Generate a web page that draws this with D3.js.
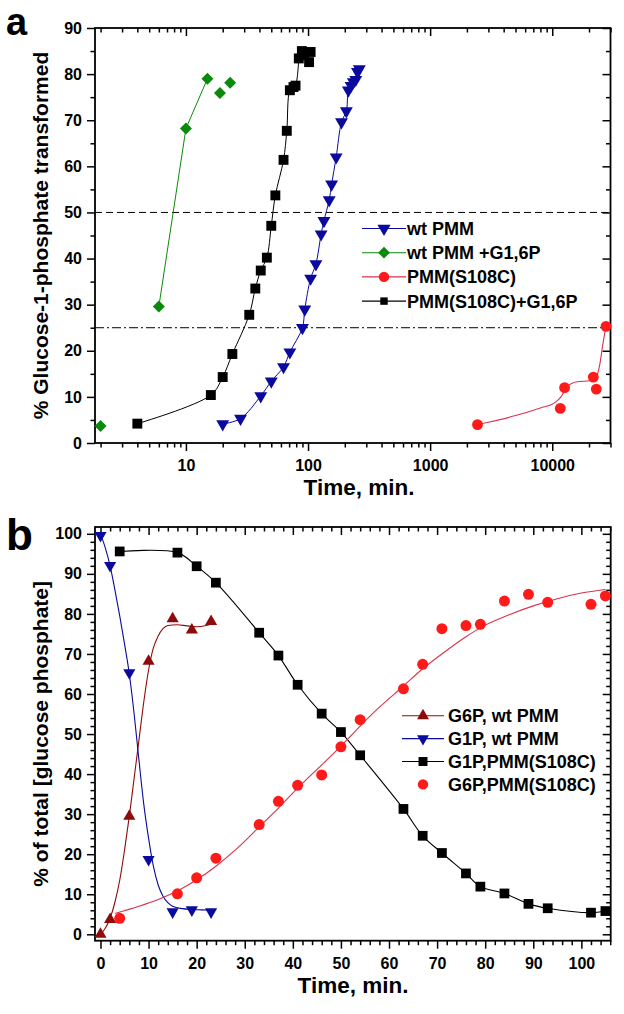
<!DOCTYPE html>
<html><head><meta charset="utf-8">
<script src="https://cdn.jsdelivr.net/npm/d3@7"></script>
<style>body{margin:0;background:#fff}svg{display:block}</style>
</head><body>
<script>
// ---------- DATA: panel a (log time axis) ----------
const wtTime = [20,28,41,50,63,71,90,94,105,116,128,135,149,156,170,188,206,214,225,235,246,254,263];
const wtVal  = [4.1,5.3,10.2,13.4,16.5,19.7,25.0,29.0,35.7,38.8,45.3,48.2,52.7,56.1,62.0,69.6,72.0,76.5,77.5,78.3,78.8,80.5,81.1];
const wtG16Time = [2,6,10,15,19,23];
const wtG16Val  = [3.7,29.6,68.2,79.0,75.9,78.1];
const wtG16LineIdx = [1,2,3];
const mutTime = [2443,11640,12620,21700,22960,27560];
const mutVal  = [4.0,7.5,12.0,14.3,11.7,25.3];
const mutFitTime = [2443,5100,8000,10300,11800,13200,16000,20500,23000,24500,26000,27560];
const mutFitVal  = [4.0,6.0,7.6,8.6,10.0,12.2,13.3,13.5,14.4,17.0,21.5,25.3];
const mutG16Time = [4,16,20,24,33,37,41,46,50,54,63,67,71,76,79,84,89,93,102,105];
const mutG16Val  = [4.2,10.4,14.3,19.3,27.8,33.5,37.4,40.2,47.1,53.7,61.4,67.7,76.5,77.2,77.5,83.4,85.0,84.1,82.6,84.8];
const mutG16LineEnd = 15;
const aXMajor = [10,100,1000,10000];
const aXMinor = [2,3,4,5,6,7,8,9,20,30,40,50,60,70,80,90,200,300,400,500,600,700,800,900,2000,3000,4000,5000,6000,7000,8000,9000,20000,30000];
const aYMajor = [0,10,20,30,40,50,60,70,80,90];
const aYMinor = [5,15,25,35,45,55,65,75,85];
const aRefDash = 50, aRefDashDot = 25;
const aLegend = ["wt PMM","wt PMM +G1,6P","PMM(S108C)","PMM(S108C)+G1,6P"];

// ---------- DATA: panel b (linear time axis) ----------
const wtTimeB = [0,2,6,10,15,19,23];
const g6pWt = [0,3.7,29.5,68.2,78.8,76.0,78.1];
const g1pWt = [99.6,92.1,65.3,18.7,5.6,6.1,5.6];
const g6pWtFitT = [0,1,2,3,4,5,6,7,8,9,10,11,12,13,14,16,18,20,22,23];
const g6pWtFitV = [0,1.5,4,8,13.5,21,29.5,39,48.5,58,66,71.5,74.5,76.3,77.1,77.3,77.0,76.8,77.1,77.4];
const g1pWtFitT = [0,1,2,3,4,5,6,7,8,9,10,11,12,13,14,15,17,19,21,23];
const g1pWtFitV = [100,96.5,92,86,79.5,72.5,65,55,43.5,32.5,24,17,12.3,9.5,7.9,7.0,6.4,6.2,6.1,6.0];
const mutTimeB = [4,16,20,24,33,37,41,46,50,54,63,67,71,76,79,84,89,93,102,105];
const g1pMut = [95.6,95.3,91.9,87.8,75.3,69.6,62.3,55.1,50.5,44.7,31.3,24.6,20.3,15.2,11.9,10.2,7.6,6.5,5.4,5.8];
const g6pMut = [4.0,10.1,14.1,19.0,27.4,33.2,37.2,39.8,46.8,53.6,61.3,67.4,76.3,77.1,77.4,83.2,84.9,82.9,82.4,84.5];
const g6pMutFitT = [3,8,12,16,20,24,28,33,37,41,46,50,54,58,63,67,71,76,80,85,90,95,100,105];
const g6pMutFitV = [5.2,7,8.7,10.8,13.6,17,21,26.8,31.5,36.5,42.3,47,52,56.7,62,66.3,70,74.3,77.2,79.8,82,83.8,85.2,86.1];
const bXMajor = [0,10,20,30,40,50,60,70,80,90,100];
const bXMinor = [2,4,6,8,12,14,16,18,22,24,26,28,32,34,36,38,42,44,46,48,52,54,56,58,62,64,66,68,72,74,76,78,82,84,86,88,92,94,96,98,102,104,106];
const bYMajor = [0,10,20,30,40,50,60,70,80,90,100];
const bYMinor = [2,4,6,8,12,14,16,18,22,24,26,28,32,34,36,38,42,44,46,48,52,54,56,58,62,64,66,68,72,74,76,78,82,84,86,88,92,94,96,98];
const bLegend = ["G6P, wt PMM","G1P, wt PMM","G1P,PMM(S108C)","G6P,PMM(S108C)"];

// ---------- STYLE ----------
const FONT = "'Liberation Sans', Arial, Helvetica, sans-serif";
const NAVY = "#0a0a9e", GREEN = "#0a8a0a", RED = "#ff1a1a", REDLINE = "#d8334a", WINE = "#8e0b0b", BLACK = "#000";

const svg = d3.select("body").append("svg").attr("width",624).attr("height",1014)
  .attr("font-family",FONT);

function drawAxes(g, x, y, o) {
  const [x0,x1] = x.range(), [y1,y0] = y.range();
  const ax = (gen, tr, vals, size, fmt, pad) => {
    const a = g.append("g").attr("transform",tr)
      .call(gen.tickValues(vals).tickSize(size).tickSizeOuter(0).tickFormat(fmt || (()=>"")).tickPadding(pad||3));
    a.select(".domain").remove();
    a.selectAll("line").attr("stroke","#000").attr("stroke-width",1.5);
    a.selectAll("text").attr("font-size",16).attr("font-weight","bold").attr("fill","#000").attr("font-family",FONT);
    return a;
  };
  ax(d3.axisBottom(x), `translate(0,${y1})`, o.xMaj, 8, d=>String(d), 8.5);
  ax(d3.axisBottom(x), `translate(0,${y1})`, o.xMin, 4.5);
  ax(d3.axisTop(x), `translate(0,${y0})`, o.xMaj, -8);
  ax(d3.axisTop(x), `translate(0,${y0})`, o.xMin, -4.5);
  ax(d3.axisLeft(y), `translate(${x0},0)`, o.yMaj, 8, d=>String(d), 5);
  ax(d3.axisLeft(y), `translate(${x0},0)`, o.yMin, 4.5);
  ax(d3.axisRight(y), `translate(${x1},0)`, o.yMaj, -8);
  ax(d3.axisRight(y), `translate(${x1},0)`, o.yMin, -4.5);
  g.append("rect").attr("x",x0).attr("y",y0).attr("width",x1-x0).attr("height",y1-y0)
    .attr("fill","none").attr("stroke","#000").attr("stroke-width",1.8);
  g.append("text").attr("x",o.xtX).attr("y",o.xtY).attr("text-anchor","middle")
    .attr("font-size",22.5).attr("font-weight","bold").text(o.xTitle);
  g.append("text").attr("transform",`translate(${o.ytX},${(y0+y1)/2}) rotate(-90)`)
    .attr("text-anchor","middle").attr("dy","0.35em")
    .attr("font-size",21).attr("font-weight","bold").text(o.yTitle);
  g.append("text").attr("x",o.lblX).attr("y",o.lblY).attr("font-size",o.lblSize).attr("font-weight","bold").text(o.label);
}

const sym = {
  down: (s)=>d3.symbol(d3.symbolTriangle, s),
  up: (s)=>d3.symbol(d3.symbolTriangle, s),
  diamond: (s)=>d3.symbol(d3.symbolSquare, s),
  square: (s)=>d3.symbol(d3.symbolSquare, s),
  circle: (s)=>d3.symbol(d3.symbolCircle, s)
};
function marker(g, type, size, color, cx, cy) {
  let rot = 0;
  if (type==="down") rot = 180;
  if (type==="diamond") rot = 45;
  g.append("path").attr("d", sym[type](size)())
    .attr("transform",`translate(${cx},${cy}) rotate(${rot})`)
    .attr("fill",color);
}
function markers(g, x, y, ts, vs, type, size, color) {
  ts.forEach((t,i)=>marker(g,type,size,color,x(t),y(vs[i])));
}
function line(g, x, y, ts, vs, color, curve, w) {
  const pts = ts.map((t,i)=>[x(t),y(vs[i])]);
  g.append("path").attr("d", d3.line().curve(curve)(pts))
    .attr("fill","none").attr("stroke",color).attr("stroke-width",w||1.1);
}

// ================= PANEL A =================
{
  const g = svg.append("g");
  const x = d3.scaleLog().domain([1.8,30000]).range([95,610.5]);
  const y = d3.scaleLinear().domain([0,90]).range([443,28]);
  drawAxes(g, x, y, {xMaj:aXMajor, xMin:aXMinor, yMaj:aYMajor, yMin:aYMinor,
    xTitle:"Time, min.", xtX:359, xtY:495, yTitle:"% Glucose-1-phosphate transformed", ytX:41,
    label:"a", lblX:6, lblY:35, lblSize:38});
  g.append("line").attr("x1",x.range()[0]).attr("x2",x.range()[1]).attr("y1",y(aRefDash)).attr("y2",y(aRefDash))
    .attr("stroke","#000").attr("stroke-width",1).attr("stroke-dasharray","7,4");
  g.append("line").attr("x1",x.range()[0]).attr("x2",x.range()[1]).attr("y1",y(aRefDashDot)).attr("y2",y(aRefDashDot))
    .attr("stroke","#000").attr("stroke-width",1).attr("stroke-dasharray","9,3,2,3");
  line(g, x, y, wtG16LineIdx.map(i=>wtG16Time[i]), wtG16LineIdx.map(i=>wtG16Val[i]), GREEN, d3.curveLinear, 1);
  line(g, x, y, mutG16Time.slice(0,mutG16LineEnd+1), mutG16Val.slice(0,mutG16LineEnd+1), BLACK, d3.curveCatmullRom, 1);
  line(g, x, y, wtTime, wtVal, NAVY, d3.curveCatmullRom, 1);
  line(g, x, y, mutFitTime, mutFitVal, REDLINE, d3.curveMonotoneX, 1.1);
  markers(g, x, y, wtG16Time, wtG16Val, "diamond", 72, GREEN);
  markers(g, x, y, mutG16Time, mutG16Val, "square", 98, BLACK);
  markers(g, x, y, wtTime, wtVal, "down", 72, NAVY);
  markers(g, x, y, mutTime, mutVal, "circle", 92, RED);
  const types = ["down","diamond","circle","square"], cols=[NAVY,GREEN,REDLINE,BLACK], mcols=[NAVY,GREEN,RED,BLACK], sizes=[75,70,85,55];
  aLegend.forEach((txt,i)=>{
    const ly = 228.5 + i*24.2;
    g.append("line").attr("x1",362).attr("x2",406).attr("y1",ly).attr("y2",ly).attr("stroke",cols[i]).attr("stroke-width",1.1);
    marker(g, types[i], sizes[i], mcols[i], 384, ly);
    g.append("text").attr("x",407).attr("y",ly).attr("dy","0.36em").attr("font-size",18).attr("font-weight","bold").text(txt);
  });
}

// ================= PANEL B =================
{
  const g = svg.append("g");
  const x = d3.scaleLinear().domain([-1.14,106.1]).range([95,610.7]);
  const y = d3.scaleLinear().domain([-1.6,101.7]).range([940.7,527]);
  drawAxes(g, x, y, {xMaj:bXMajor, xMin:bXMinor, yMaj:bYMajor, yMin:bYMinor,
    xTitle:"Time, min.", xtX:353, xtY:993, yTitle:"% of total [glucose phosphate]", ytX:41,
    label:"b", lblX:6, lblY:550, lblSize:44});
  line(g, x, y, g6pWtFitT, g6pWtFitV, WINE, d3.curveMonotoneX, 1.1);
  line(g, x, y, g1pWtFitT, g1pWtFitV, NAVY, d3.curveMonotoneX, 1.1);
  line(g, x, y, mutTimeB, g1pMut, BLACK, d3.curveCatmullRom, 1.1);
  line(g, x, y, g6pMutFitT, g6pMutFitV, REDLINE, d3.curveMonotoneX, 1.1);
  markers(g, x, y, mutTimeB, g1pMut, "square", 95, BLACK);
  markers(g, x, y, mutTimeB, g6pMut, "circle", 95, RED);
  markers(g, x, y, wtTimeB, g6pWt, "up", 64, WINE);
  markers(g, x, y, wtTimeB, g1pWt, "down", 64, NAVY);
  const types = ["up","down","square","circle"], cols=[WINE,NAVY,BLACK,null], mcols=[WINE,NAVY,BLACK,RED], sizes=[62,62,80,85];
  bLegend.forEach((txt,i)=>{
    const ly = 715.7 + i*22.9;
    if (cols[i]) g.append("line").attr("x1",402).attr("x2",444).attr("y1",ly).attr("y2",ly).attr("stroke",cols[i]).attr("stroke-width",1.1);
    marker(g, types[i], sizes[i], mcols[i], 423, ly);
    g.append("text").attr("x",448).attr("y",ly).attr("dy","0.36em").attr("font-size",18).attr("font-weight","bold").text(txt);
  });
}
</script>
</body></html>
